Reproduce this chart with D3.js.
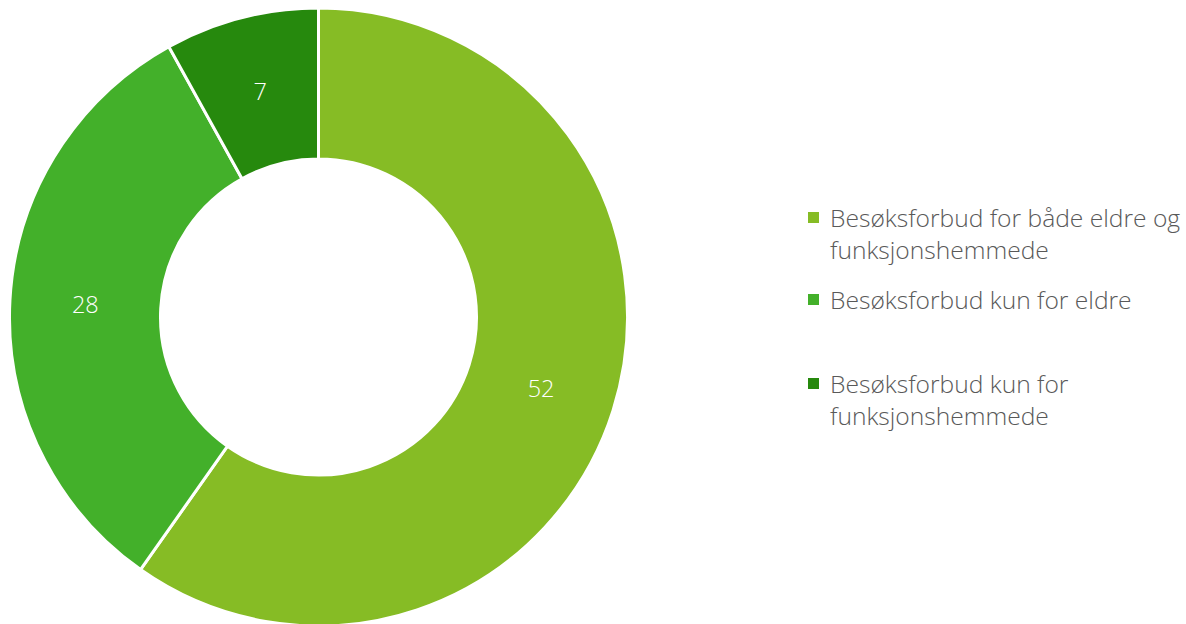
<!DOCTYPE html>
<html>
<head>
<meta charset="utf-8">
<script src="https://cdn.jsdelivr.net/npm/d3@7"></script>
<style>
  html, body { margin: 0; padding: 0; background: #fff; }
  svg { display: block; }
</style>
</head>
<body>
<svg id="chart" width="1186" height="624"></svg>
<script>
// Visiting restrictions by group
const categories = [
  ["Besøksforbud for både eldre og", "funksjonshemmede"],
  ["Besøksforbud kun for eldre"],
  ["Besøksforbud kun for", "funksjonshemmede"]
];
const values = [52, 28, 7];
const colors = ["#86BC25", "#43B02A", "#26890D"];

const svg = d3.select("#chart");
const cx = 318.5, cy = 317, outerR = 309, innerR = 158;

const pie = d3.pie().sort(null).value(d => d)(values);
const arc = d3.arc().innerRadius(innerR).outerRadius(outerR);
const labelArc = d3.arc().innerRadius((innerR + outerR) / 2).outerRadius((innerR + outerR) / 2);

const g = svg.append("g").attr("transform", `translate(${cx},${cy})`);

g.selectAll("path.slice")
  .data(pie)
  .join("path")
  .attr("class", "slice")
  .attr("d", arc)
  .attr("fill", (d, i) => colors[i])
  .attr("stroke", "#fff")
  .attr("stroke-width", 3)
  .attr("stroke-linejoin", "miter");

g.selectAll("text.val")
  .data(pie)
  .join("text")
  .attr("class", "val")
  .attr("transform", d => `translate(${labelArc.centroid(d)})`)
  .attr("text-anchor", "middle")
  .attr("dominant-baseline", "central")
  .attr("font-family", "'Open Sans', sans-serif")
  .attr("font-weight", 300)
  .attr("font-size", 23.5)
  .attr("fill", "#fff")
  .text(d => d.data);

// Legend
const legendX = 808, lineH = 32;
const legendTops = [217, 299, 383];
const legend = svg.append("g");
categories.forEach((lines, i) => {
  const y0 = legendTops[i];
  legend.append("rect")
    .attr("x", legendX)
    .attr("y", y0 - 5)
    .attr("width", 11)
    .attr("height", 11)
    .attr("fill", colors[i]);
  const t = legend.append("text")
    .attr("font-family", "'Open Sans', sans-serif")
    .attr("font-weight", 300)
    .attr("font-size", 24.6)
    .attr("fill", "#595959");
  lines.forEach((line, j) => {
    t.append("tspan")
      .attr("x", legendX + 22)
      .attr("y", y0 + j * lineH)
      .attr("dominant-baseline", "central")
      .text(line);
  });
});
</script>
</body>
</html>
